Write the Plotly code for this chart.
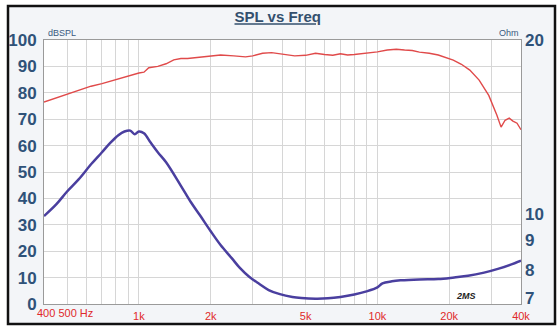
import math
import plotly.graph_objects as go

# SPL (dB) vs frequency
spl_freq = [400, 450, 500, 560, 630, 700, 800, 900, 1000, 1050, 1100, 1200, 1300, 1400, 1500,
            1600, 1800, 2000, 2200, 2500, 2800, 3000, 3300, 3600, 4000, 4500, 5000, 5500, 6000,
            6500, 7000, 7500, 8000, 9000, 10000, 11000, 12000, 13000, 14000, 15000, 16500,
            18000, 19000, 20800, 22500, 24400, 26700, 29300, 31700, 33000, 34300, 35700,
            37000, 38500, 40000]
spl_db = [76.5, 78, 79.5, 81, 82.5, 83.5, 85, 86.5, 87.5, 87.8, 89.5, 90, 91, 92.5, 93,
          93, 93.5, 94, 94.3, 94, 93.6, 94, 95, 95.2, 94.6, 94, 94.2, 95, 94.5,
          94.2, 94.8, 94.3, 94.5, 95, 95.5, 96.2, 96.5, 96.2, 96, 95.4, 95,
          94.3, 93.5, 92.4, 90.8, 88.6, 84.8, 79, 71.5, 67, 69.6, 70.4,
          69.3, 68.5, 66]

# Impedance (Ohm) vs frequency
imp_freq = [400, 450, 500, 560, 630, 700, 760, 820, 870, 920, 960, 1000, 1050, 1120, 1200,
            1300, 1500, 1650, 1800, 2000, 2200, 2450, 2650, 2900, 3200, 3500, 3900, 4400,
            4800, 5500, 6200, 7000, 8000, 9000, 10000, 10500, 11500, 12500, 15000, 18000,
            21000, 24000, 28000, 32000, 36000, 40000]
imp_ohm = [9.93, 10.4, 10.95, 11.5, 12.2, 12.8, 13.3, 13.7, 13.9, 13.95, 13.75, 13.9, 13.8,
           13.3, 12.8, 12.3, 11.2, 10.5, 9.97, 9.35, 8.85, 8.4, 8.08, 7.8, 7.58, 7.4, 7.28,
           7.2, 7.17, 7.15, 7.16, 7.2, 7.27, 7.36, 7.48, 7.6, 7.66, 7.69, 7.72, 7.73,
           7.78, 7.83, 7.93, 8.05, 8.18, 8.32]

grid_freqs = [400, 500, 600, 700, 800, 900, 1000, 2000, 3000, 4000, 5000, 6000, 7000, 8000,
              9000, 10000, 20000, 30000, 40000]
label_map = {1000: "1k", 2000: "2k", 5000: "5k", 10000: "10k", 20000: "20k", 40000: "40k"}
x_ticktext = [label_map.get(f, "") for f in grid_freqs]
low_label = "400 500 Hz"

db_ticks = [0, 10, 20, 30, 40, 50, 60, 70, 80, 90, 100]
ohm_ticks = [7, 8, 9, 10, 20]

fig = go.Figure()
fig.add_trace(go.Scatter(x=spl_freq, y=spl_db, mode="lines",
                         line=dict(color="#e04a4a", width=1.4), yaxis="y"))
fig.add_trace(go.Scatter(x=imp_freq, y=imp_ohm, mode="lines", line_shape="spline",
                         line=dict(color="#4a3f9f", width=2.5), yaxis="y2"))

blue = "#2f5279"
fnt = "Arial, Liberation Sans"
annotations = [
    dict(text="dBSPL", xref="paper", yref="paper", x=2 / 477, y=(304 - 33) / 264,
         xanchor="left", yanchor="middle", showarrow=False,
         font=dict(family=fnt, size=9, color="#3a5a80")),
    dict(text="Ohm", xref="paper", yref="paper", x=1.0, y=(304 - 33) / 264,
         xanchor="right", yanchor="middle", showarrow=False,
         font=dict(family=fnt, size=9, color="#3a5a80")),
    dict(text="<i><b>2MS</b></i>", xref="paper", yref="paper", x=(478 - 44) / 477,
         y=(304 - 296) / 264, xanchor="right", yanchor="middle", showarrow=False,
         font=dict(family=fnt, size=9, color="#222222")),
    dict(text=low_label, xref="paper", yref="paper", x=(35 - 44) / 477,
         y=(304 - 313) / 264, xanchor="left", yanchor="middle", showarrow=False,
         font=dict(family=fnt, size=11, color="#e02a2a")),
]
for v in ohm_ticks:
    annotations.append(dict(
        text=str(v), xref="paper", yref="y2", x=1.0, y=math.log10(v),
        xanchor="left", yanchor="middle", showarrow=False, xshift=2,
        yshift=6 if v == 7 else 0,
        font=dict(family=fnt, size=17, color=blue, weight="bold")))

fig.update_layout(
    width=560, height=334,
    margin=dict(l=44, r=39, t=40, b=30, autoexpand=False),
    paper_bgcolor="white", plot_bgcolor="white",
    showlegend=False,
    title=dict(text="<u>SPL vs Freq</u>", x=0.49, xref="paper", y=1 - 17 / 334,
               yref="container", xanchor="center", yanchor="middle",
               font=dict(family=fnt, size=15, color="#34506e", weight="bold")),
    xaxis=dict(type="log", range=[2.60206, 4.60206], tickmode="array",
               tickvals=grid_freqs, ticktext=x_ticktext, showgrid=True, tickangle=0,
               gridcolor="#d6d6d6", gridwidth=1, ticks="", zeroline=False,
               showline=True, linecolor="#9a9a9a", mirror=True, automargin=False,
               tickfont=dict(family=fnt, size=11, color="#e02a2a"),
               ticklabelstandoff=2),
    yaxis=dict(range=[0, 100], tickmode="array", tickvals=db_ticks, showgrid=True,
               gridcolor="#d6d6d6", ticks="", zeroline=False, showline=True,
               linecolor="#9a9a9a", mirror=True, ticklabelstandoff=3, automargin=False,
               tickfont=dict(family=fnt, size=17, color=blue, weight="bold")),
    yaxis2=dict(type="log", range=[math.log10(7), math.log10(20)], overlaying="y",
                side="right", showticklabels=False, showgrid=False, ticks="",
                zeroline=False, showline=False, automargin=False),
    shapes=[
        dict(type="rect", xref="paper", yref="paper", x0=(8 - 44) / 477, x1=(555 - 44) / 477,
             y0=(304 - 324) / 264, y1=(304 - 6) / 264, fillcolor="#f3f5f8",
             line=dict(color="#111111", width=2.5), layer="below"),
        dict(type="rect", xref="paper", yref="paper", x0=0, x1=1, y0=0, y1=1,
             fillcolor="white", line=dict(width=0), layer="below"),
    ],
    annotations=annotations,
)

fig.write_html("out.html")
